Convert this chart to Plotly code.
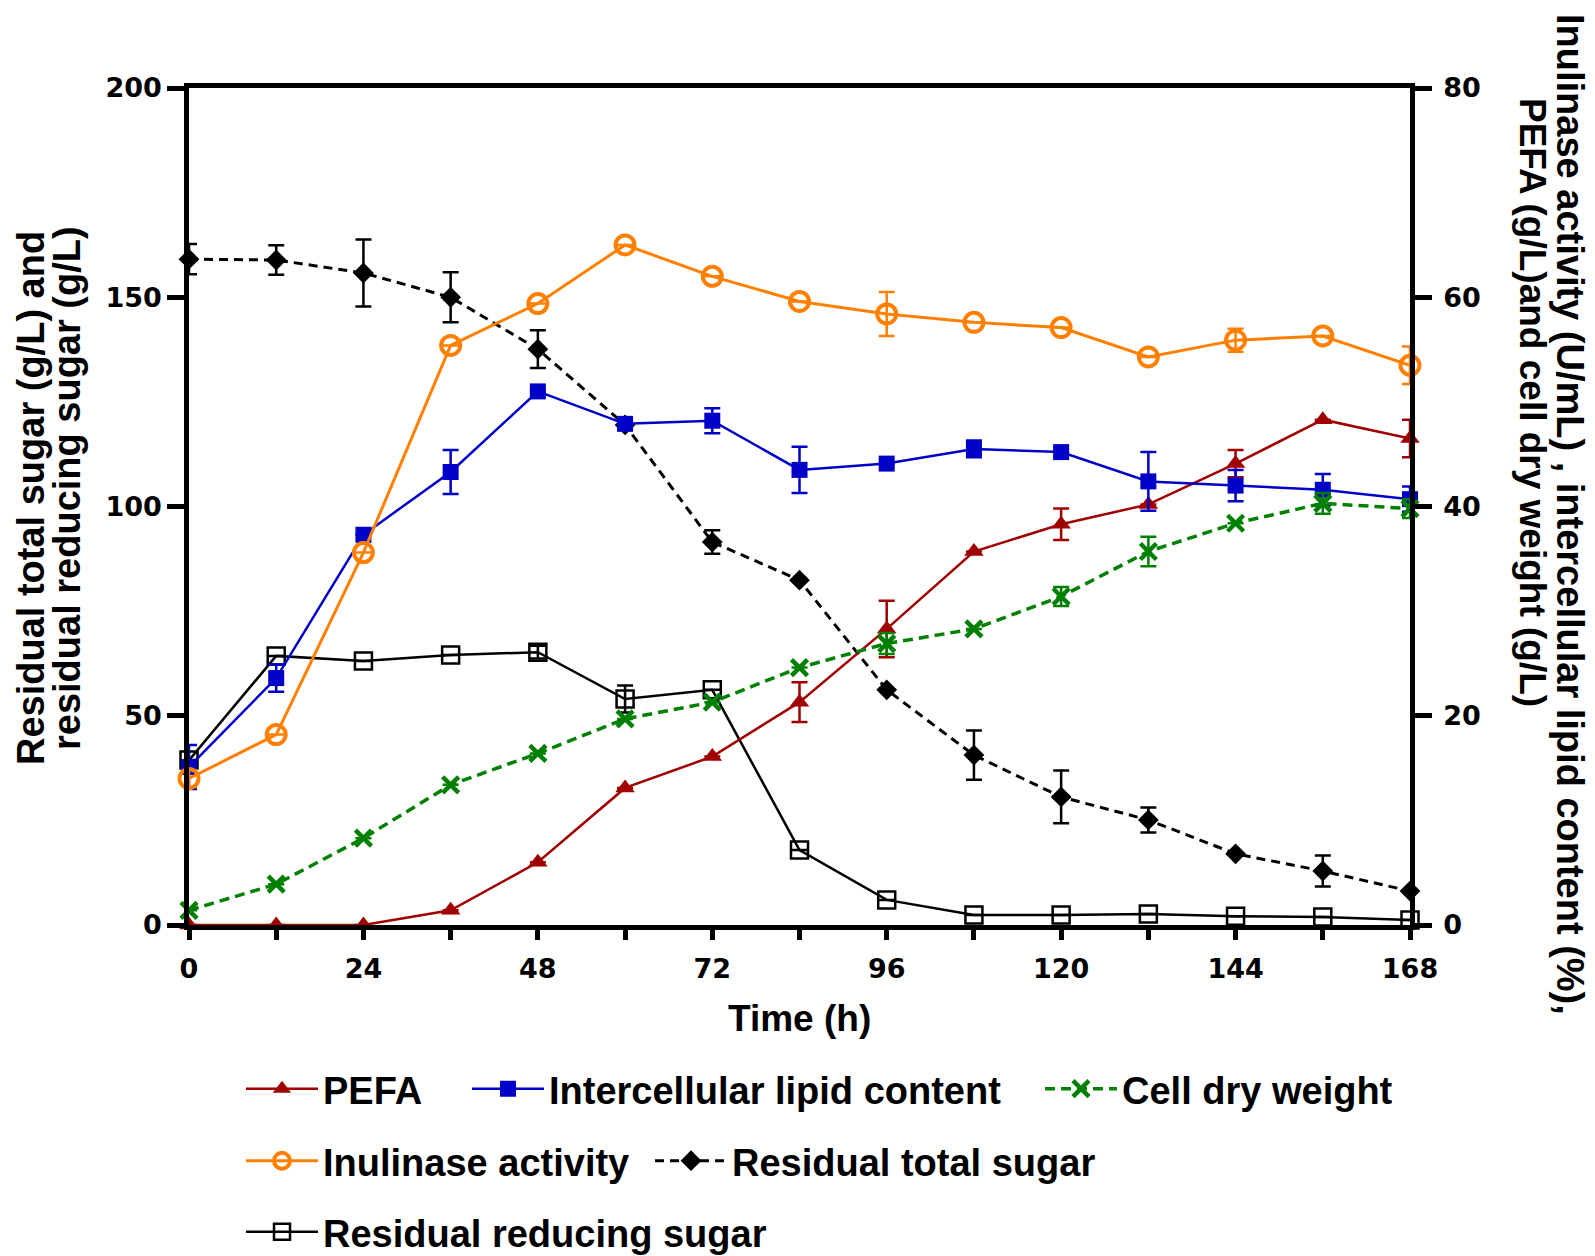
import plotly.graph_objects as go

# ---------------- data ----------------
time_h = [0, 12, 24, 36, 48, 60, 72, 84, 96, 108, 120, 132, 144, 156, 168]

pefa = [0, 0, 0, 1.4, 6.0, 13.1, 16.1, 21.3, 28.3, 35.7, 38.3, 40.2, 44.1, 48.3, 46.5]
pefa_err = [0, 0, 0, 0, 0, 0, 0, 1.9, 2.7, 0, 1.5, 0, 1.3, 0, 1.8]

lipid = [15.1, 23.6, 37.3, 43.3, 51.0, 47.9, 48.2, 43.5, 44.1, 45.5, 45.2, 42.4, 42.0, 41.6, 40.7]
lipid_err = [2.1, 1.3, 0, 2.1, 0, 0, 1.2, 2.2, 0, 0.8, 0, 2.8, 1.5, 1.5, 1.2]

cdw = [1.4, 3.9, 8.3, 13.4, 16.4, 19.7, 21.3, 24.6, 26.9, 28.3, 31.4, 35.7, 38.4, 40.3, 39.8]
cdw_err = [0, 0, 0, 0, 0, 0, 0, 0, 1.0, 0, 0.9, 1.4, 0, 1.0, 0.9]

inulinase = [14.0, 18.2, 35.6, 55.4, 59.4, 65.0, 62.0, 59.6, 58.4, 57.6, 57.1, 54.3, 55.9, 56.3, 53.5]
inulinase_err = [0.8, 0, 0, 0, 0, 0, 0, 0, 2.1, 0, 0, 0, 1.1, 0, 1.8]

total_sugar = [159.1, 158.9, 155.8, 150.0, 137.6, 119.5, 91.5, 82.4, 56.2, 40.6, 30.6, 25.1, 17.0, 12.9, 8.1]
total_sugar_err = [3.6, 3.5, 8.0, 6.0, 4.5, 0, 2.8, 0, 0, 5.9, 6.3, 3.0, 0, 3.7, 0]

reducing_sugar = [39.4, 64.3, 63.1, 64.5, 65.2, 54.0, 56.2, 17.9, 6.0, 2.4, 2.4, 2.6, 2.1, 1.9, 1.2]
reducing_sugar_err = [0, 0, 0, 0, 1.5, 3.2, 0, 0, 0, 0, 0, 0, 0, 0, 0]

x_ticks = list(range(0, 169, 12))
x_tick_text = [str(v) if v % 24 == 0 else "" for v in x_ticks]
left_ticks = [0, 50, 100, 150, 200]
right_ticks = [0, 20, 40, 60, 80]

# ---------------- figure ----------------
# the html page body has a small margin; figure is sized so it fills the window exactly
BODY = 8
PAGE_W, PAGE_H = 1595, 1256
W, H = PAGE_W - BODY, PAGE_H - BODY
OFF = 6  # effective page offset used for positioning
# plot area in page pixels
PX0, PX1, PY0, PY1 = 187, 1408, 86, 923
L, T = PX0 - OFF, PY0 - OFF
R, B = W - (PX1 - OFF), H - (PY1 - OFF)
PW, PH = PX1 - PX0, PY1 - PY0


def px(xp):
    return (xp - PX0) / PW


def py(yp):
    return (PY1 - yp) / PH


RED = "#A00000"
BLUE = "#0000C8"
ORANGE = "#FF8000"
GREEN = "#008000"
BLACK = "#000000"

fig = go.Figure()


def err(arr, color):
    return dict(type="data", array=arr, visible=True, color=color, thickness=2.5, width=8)


fig.add_trace(go.Scatter(
    x=time_h, y=pefa, name="PEFA", yaxis="y2", mode="lines+markers",
    line=dict(color=RED, width=2.5),
    marker=dict(symbol="triangle-up", size=17, color=RED),
    error_y=err(pefa_err, RED), cliponaxis=False, legend="legend"))

fig.add_trace(go.Scatter(
    x=time_h, y=lipid, name="Intercellular lipid content", yaxis="y2", mode="lines+markers",
    line=dict(color=BLUE, width=2.5),
    marker=dict(symbol="square", size=16, color=BLUE),
    error_y=err(lipid_err, BLUE), cliponaxis=False, legend="legend2"))

fig.add_trace(go.Scatter(
    x=time_h, y=cdw, name="Cell dry weight", yaxis="y2", mode="lines+markers",
    line=dict(color=GREEN, width=3.5, dash="10px,6px"),
    marker=dict(symbol="x-thin-open", size=16, color=GREEN, line=dict(color=GREEN, width=4.5)),
    error_y=err(cdw_err, GREEN), cliponaxis=False, legend="legend3"))

fig.add_trace(go.Scatter(
    x=time_h, y=inulinase, name="Inulinase activity", yaxis="y2", mode="lines+markers",
    line=dict(color=ORANGE, width=3),
    marker=dict(symbol="circle-open", size=19, color=ORANGE, line=dict(color=ORANGE, width=4)),
    error_y=err(inulinase_err, ORANGE), cliponaxis=False, legend="legend4"))

fig.add_trace(go.Scatter(
    x=time_h, y=total_sugar, name="Residual total sugar", yaxis="y", mode="lines+markers",
    line=dict(color=BLACK, width=3, dash="9px,6px"),
    marker=dict(symbol="diamond", size=16, color=BLACK),
    error_y=err(total_sugar_err, BLACK), cliponaxis=False, legend="legend5"))

fig.add_trace(go.Scatter(
    x=time_h, y=reducing_sugar, name="Residual reducing sugar", yaxis="y", mode="lines+markers",
    line=dict(color=BLACK, width=2.5),
    marker=dict(symbol="square-open", size=17, color=BLACK, line=dict(color=BLACK, width=2.5)),
    error_y=err(reducing_sugar_err, BLACK), cliponaxis=False, legend="legend6"))

tickfont = dict(family="DejaVu Sans", size=27, color="black", weight="bold")
axis_common = dict(showline=True, linecolor="black", linewidth=4.5, ticks="outside",
                   tickcolor="black", tickwidth=4.5, showgrid=False, zeroline=False,
                   tickfont=tickfont)

legend_font = dict(family="Liberation Sans", size=38, color="black", weight="bold")
ITEMW = 72


def leg(xpix, ypix):
    # xpix = left end of the legend symbol line (page px), ypix = row centre
    return dict(x=px(xpix - 5), y=py(ypix), xref="paper", yref="paper", xanchor="left",
                yanchor="middle", orientation="h", font=legend_font,
                bgcolor="rgba(0,0,0,0)", borderwidth=0, itemwidth=ITEMW)


fig.update_layout(
    width=W, height=H,
    margin=dict(l=L, r=R, t=T, b=B, autoexpand=False),
    paper_bgcolor="white", plot_bgcolor="white",
    font=dict(family="Liberation Sans", color="black"),
    xaxis=dict(range=[0, 168], tickvals=x_ticks, ticktext=x_tick_text, ticklen=10,
               mirror=True, ticklabelstandoff=6, **axis_common),
    yaxis=dict(range=[0, 200], tickvals=left_ticks, ticklen=17, ticklabelstandoff=0,
               **axis_common),
    yaxis2=dict(range=[0, 80], tickvals=right_ticks, ticklen=17, overlaying="y", side="right",
                ticklabelstandoff=6, **axis_common),
    showlegend=True,
    legend=leg(244, 1087),
    legend2=leg(470, 1087),
    legend3=leg(1043, 1087),
    legend4=leg(244, 1159),
    legend5=leg(653, 1159),
    legend6=leg(244, 1230),
)

annots = [
    ("Residual total sugar (g/L) and", 29, 496, -90, 38),
    ("residual reducing sugar (g/L)", 65, 486, -90, 38),
    ("Inulinase activity (U/mL) , intercellular lipid content (%),", 1568, 512, 90, 38),
    ("PEFA (g/L)and cell dry weight (g/L)", 1530, 400, 90, 37),
    ("Time (h)", 797, 1016, 0, 37),
]
for text, ax_, ay_, ang, fs in annots:
    fig.add_annotation(text=text, x=px(ax_), y=py(ay_), xref="paper", yref="paper",
                       xanchor="center", yanchor="middle", showarrow=False,
                       textangle=ang,
                       font=dict(family="Liberation Sans", size=fs, color="black", weight="bold"))

fig.write_html("out.html")
